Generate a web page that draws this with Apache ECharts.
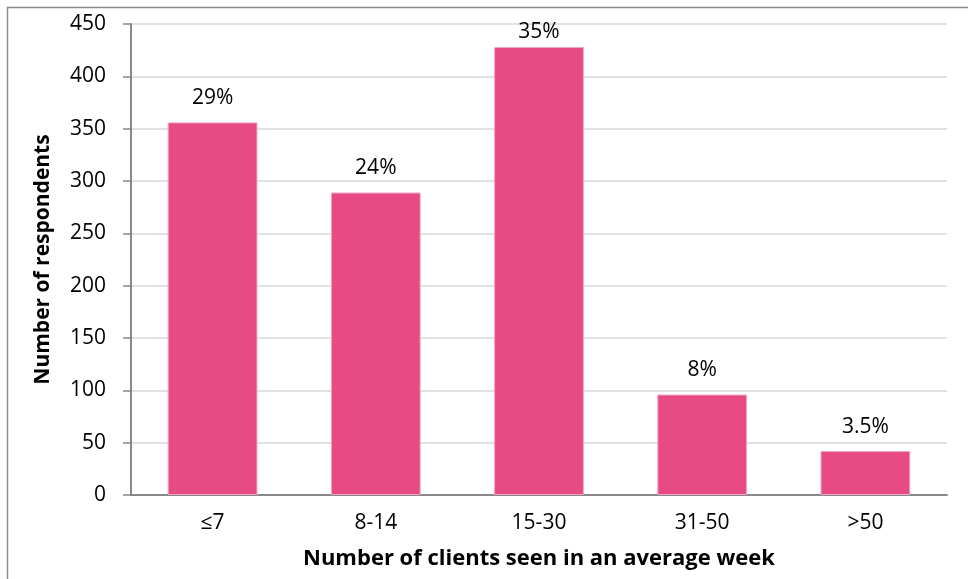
<!DOCTYPE html>
<html>
<head>
<meta charset="utf-8">
<script src="https://cdn.jsdelivr.net/npm/echarts@6/dist/echarts.min.js"></script>
<style>
  html, body { margin: 0; padding: 0; background: #ffffff; }
  #chart { width: 968px; height: 579px; }
</style>
</head>
<body>
<div id="chart"></div>
<script>
// Clients seen per week, grouped into bands
const categories = ['≤7', '8-14', '15-30', '31-50', '>50'];
const respondents = [356, 289, 428, 96, 42];
const shareLabels = ['29%', '24%', '35%', '8%', '3.5%'];
const yTicks = { min: 0, max: 450, interval: 50 };

const FONT = '"Open Sans", sans-serif';
const BAR = '#E84A84';
const SIZE = 21;

const chart = echarts.init(document.getElementById('chart'), null, { renderer: 'canvas' });

const seriesData = respondents.map((v, i) => ({
  value: v,
  label: { distance: i === 2 ? 5 : 14 }
}));

chart.setOption({
  animation: false,
  backgroundColor: '#ffffff',
  graphic: [{
    type: 'rect',
    shape: { x: 7.5, y: 7.5, width: 1000, height: 1000 },
    style: { fill: 'none', stroke: '#8c8c8c', lineWidth: 1.5 },
    silent: true
  }],
  grid: { left: 131, right: 21, top: 24, bottom: 84 },
  xAxis: {
    type: 'category',
    data: categories,
    name: 'Number of clients seen in an average week',
    nameLocation: 'middle',
    nameGap: 53,
    nameTextStyle: { fontFamily: FONT, fontSize: 22, fontWeight: 'bold', color: '#000' },
    axisLine: { lineStyle: { color: '#888888', width: 2 } },
    axisTick: { show: false },
    axisLabel: { fontFamily: FONT, fontSize: SIZE, color: '#000', margin: 18 }
  },
  yAxis: {
    type: 'value',
    min: yTicks.min,
    max: yTicks.max,
    interval: yTicks.interval,
    name: 'Number of respondents',
    nameLocation: 'middle',
    nameGap: 77,
    nameTextStyle: { fontFamily: FONT, fontSize: SIZE, fontWeight: 'bold', color: '#000' },
    axisLine: { show: true, lineStyle: { color: '#888888', width: 2 } },
    axisTick: { show: true, length: 8, lineStyle: { color: '#888888', width: 1.5 } },
    axisLabel: { fontFamily: FONT, fontSize: SIZE, color: '#000', margin: 25 },
    splitLine: { lineStyle: { color: '#d9d9d9', width: 1.5 } }
  },
  series: [{
    type: 'bar',
    data: seriesData,
    barWidth: '55%',
    itemStyle: { color: BAR, borderColor: '#f3a6c2', borderWidth: 1 },
    label: {
      show: true,
      position: 'top',
      fontFamily: FONT,
      fontSize: SIZE,
      color: '#000',
      formatter: p => shareLabels[p.dataIndex]
    }
  }]
});
</script>
</body>
</html>
